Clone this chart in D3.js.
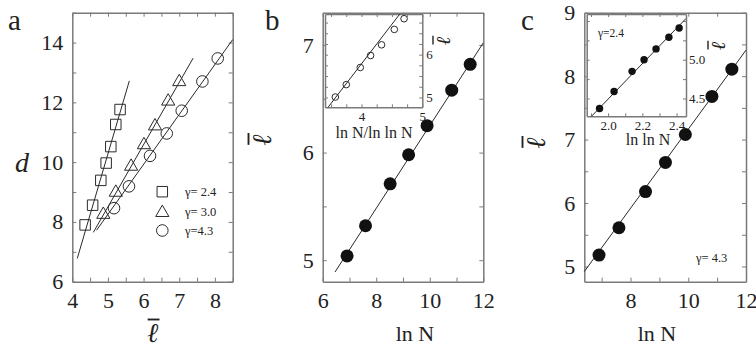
<!DOCTYPE html>
<html><head><meta charset="utf-8">
<script src="https://cdn.jsdelivr.net/npm/d3@7"></script>
<style>
body{margin:0;background:#fff}
svg{display:block}
text{font-family:"Liberation Serif","Times New Roman",serif;fill:#222}
</style></head><body>
<svg id="chart" width="756" height="356"></svg>
<script>
// ---------- data ----------
const lnN = [6.91, 7.60, 8.52, 9.21, 9.90, 10.82, 11.51];
// panel a : d vs l-bar
const aSquareX = [4.36, 4.57, 4.80, 4.95, 5.08, 5.22, 5.34];
const aSquareY = [7.90, 8.56, 9.39, 9.97, 10.52, 11.26, 11.76];
const aTriX    = [4.87, 5.22, 5.65, 6.01, 6.32, 6.69, 7.00];
const aTriY    = [8.28, 9.02, 9.89, 10.61, 11.24, 12.07, 12.72];
const aCircX   = [5.17, 5.59, 6.18, 6.65, 7.07, 7.65, 8.08];
const aCircY   = [8.46, 9.19, 10.21, 10.96, 11.72, 12.70, 13.47];
const aFitSquare = [[4.14, 6.78], [5.60, 12.72]];
const aFitTri    = [[4.59, 7.65], [7.39, 13.48]];
const aFitCirc   = [[4.68, 7.72], [8.50, 14.10]];
const aLegend = ["γ= 2.4", "γ= 3.0", "γ=4.3"];
// panel b
const bY = [5.04, 5.32, 5.71, 5.98, 6.25, 6.58, 6.82];
const bFit = [[6.46, 4.89], [12.0, 7.02]];
const bInsetX = [3.57, 3.75, 3.98, 4.15, 4.33, 4.54, 4.70];
const bInsetY = [5.01, 5.30, 5.70, 5.98, 6.23, 6.59, 6.84];
const bInsetFit = [[3.45, 4.77], [4.63, 6.95]];
// panel c
const cY = [5.18, 5.61, 6.18, 6.64, 7.08, 7.68, 8.11];
const cFit = [[6.4, 4.92], [12.0, 8.41]];
const cInsetX = [1.95, 2.035, 2.14, 2.21, 2.28, 2.355, 2.415];
const cInsetY = [4.37, 4.59, 4.85, 5.00, 5.14, 5.29, 5.41];
const cInsetFit = [[1.903, 4.27], [2.454, 5.53]];
// ticks
const aXTicks = d3.range(4, 8.51, 0.5), aXLabels = [4, 5, 6, 7, 8];
const aYTicks = d3.range(6, 15.01, 1), aYLabels = [6, 8, 10, 12, 14];
const bXTicks = d3.range(6, 12.01, 1), bXLabels = [6, 8, 10, 12];
const bYTicks = d3.range(5, 7.01, 0.5), bYLabels = [5, 6, 7];
const cXTicks = d3.range(7, 12.01, 1), cXLabels = [8, 10, 12];
const cYTicks = d3.range(5, 9.01, 0.5), cYLabels = [5, 6, 7, 8, 9];
const biXTicks = d3.range(3.5, 5.01, 0.25), biXLabels = [4, 5];
const biYTicks = d3.range(5, 6.91, 0.25), biYLabels = [5, 6];
const ciXTicks = d3.range(1.9, 2.451, 0.1), ciXLabels = [2.0, 2.2, 2.4];
const ciYTicks = d3.range(4.5, 5.51, 0.25), ciYLabels = [4.5, 5.0];

// ---------- drawing ----------
const svg = d3.select("#chart");
const FRAME = "#7a7a7a", INK = "#2a2a2a";

function near(arr, v) { return arr.some(a => Math.abs(a - v) < 1e-6); }

function makePanel(o) {
  const x = d3.scaleLinear().domain(o.xd).range([o.l, o.r]);
  const y = d3.scaleLinear().domain(o.yd).range([o.b, o.t]);
  const g = svg.append("g");
  g.append("rect").attr("x", o.l).attr("y", o.t).attr("width", o.r - o.l).attr("height", o.b - o.t)
    .attr("fill", "#fff").attr("stroke", "none");
  const fx = o.fmtX || (d => d), fy = o.fmtY || (d => d);
  const bottom = d3.axisBottom(x).tickValues(o.xt).tickSizeInner(-o.tl).tickSizeOuter(0).tickPadding(o.xpad)
    .tickFormat(d => near(o.xl, d) ? fx(d) : "");
  const top = d3.axisTop(x).tickValues(o.xt).tickSizeInner(-o.tl).tickSizeOuter(0).tickFormat("");
  const left = d3.axisLeft(y).tickValues(o.yt).tickSizeInner(-o.tl).tickSizeOuter(0).tickPadding(o.ypad)
    .tickFormat(d => (!o.yRight && near(o.yl, d)) ? fy(d) : "");
  const right = d3.axisRight(y).tickValues(o.yt).tickSizeInner(-o.tl).tickSizeOuter(0).tickPadding(o.ypad)
    .tickFormat(d => (o.yRight && near(o.yl, d)) ? fy(d) : "");
  const ax = [
    g.append("g").attr("transform", `translate(0,${o.b})`).call(bottom),
    g.append("g").attr("transform", `translate(0,${o.t})`).call(top),
    g.append("g").attr("transform", `translate(${o.l},0)`).call(left),
    g.append("g").attr("transform", `translate(${o.r},0)`).call(right)
  ];
  ax.forEach(a => {
    a.select(".domain").attr("stroke", FRAME).attr("stroke-width", o.sw);
    a.selectAll(".tick line").attr("stroke", FRAME).attr("stroke-width", 1);
    a.selectAll(".tick text").attr("font-size", o.fs).attr("fill", "#222")
      .style("font-family", '"Liberation Serif","Times New Roman",serif');
    a.attr("font-family", null);
  });
  return {g, x, y};
}

function fitLine(p, seg, w) {
  p.g.append("line")
    .attr("x1", p.x(seg[0][0])).attr("y1", p.y(seg[0][1]))
    .attr("x2", p.x(seg[1][0])).attr("y2", p.y(seg[1][1]))
    .attr("stroke", INK).attr("stroke-width", w || 1);
}

function ellBar(cx, cy, size, rot) {
  const g = svg.append("g").attr("transform", `translate(${cx},${cy}) rotate(${rot})`);
  g.append("text").attr("x", 0).attr("y", size * 0.35).attr("text-anchor", "middle")
    .attr("font-size", size).attr("font-style", "italic").text("ℓ");
  g.append("line").attr("x1", -size * 0.18).attr("x2", size * 0.26)
    .attr("y1", -size * 0.5).attr("y2", -size * 0.5)
    .attr("stroke", "#222").attr("stroke-width", size * 0.07);
}

// ----- panel a -----
const pa = makePanel({l: 72.3, r: 232.7, t: 12.7, b: 281.7, xd: [4, 8.5], yd: [6, 15],
  xt: aXTicks, xl: aXLabels, yt: aYTicks, yl: aYLabels, tl: 4, xpad: 11, ypad: 9, fs: 22, sw: 1.5});
fitLine(pa, aFitSquare); fitLine(pa, aFitTri); fitLine(pa, aFitCirc);
const sq = d3.symbol().type(d3.symbolSquare).size(110);
const tri = d3.symbol().type(d3.symbolTriangle).size(75);
pa.g.selectAll(".sq").data(aSquareX).join("path")
  .attr("d", sq).attr("transform", (d, i) => `translate(${pa.x(d)},${pa.y(aSquareY[i])})`)
  .attr("fill", "none").attr("stroke", INK).attr("stroke-width", 1);
pa.g.selectAll(".tri").data(aTriX).join("path")
  .attr("d", tri).attr("transform", (d, i) => `translate(${pa.x(d)},${pa.y(aTriY[i]) + 1})`)
  .attr("fill", "none").attr("stroke", INK).attr("stroke-width", 1);
pa.g.selectAll(".ci").data(aCircX).join("circle")
  .attr("cx", d => pa.x(d)).attr("cy", (d, i) => pa.y(aCircY[i])).attr("r", 5.8)
  .attr("fill", "none").attr("stroke", INK).attr("stroke-width", 1);
// legend
const legY = [191.7, 211.7, 230.5];
const legSym = [sq, tri, null];
aLegend.forEach((t, i) => {
  if (legSym[i]) {
    pa.g.append("path").attr("d", legSym[i]).attr("transform", `translate(162.3,${legY[i] + (i === 1 ? 1 : 0)})`)
      .attr("fill", "none").attr("stroke", INK);
  } else {
    pa.g.append("circle").attr("cx", 162.3).attr("cy", legY[i]).attr("r", 5.8).attr("fill", "none").attr("stroke", INK);
  }
  pa.g.append("text").attr("x", 185).attr("y", legY[i] + 4).attr("font-size", 12.5).text(t);
});
svg.append("text").attr("x", 8).attr("y", 30).attr("font-size", 29).text("a");
svg.append("text").attr("x", 22).attr("y", 172).attr("text-anchor", "middle")
  .attr("font-size", 28).attr("font-style", "italic").text("d");
ellBar(152.5, 333, 27, 0);

// ----- panel b -----
const pb = makePanel({l: 322.7, r: 483.3, t: 12.7, b: 281.7, xd: [6, 12], yd: [4.8, 7.3],
  xt: bXTicks, xl: bXLabels, yt: bYTicks, yl: bYLabels, tl: 4, xpad: 11, ypad: 9, fs: 22, sw: 1.5});
fitLine(pb, bFit);
pb.g.selectAll(".pt").data(lnN).join("circle")
  .attr("cx", d => pb.x(d)).attr("cy", (d, i) => pb.y(bY[i])).attr("r", 6.5).attr("fill", "#111");
svg.append("text").attr("x", 265).attr("y", 30).attr("font-size", 29).text("b");
ellBar(262, 140, 27, -90);
svg.append("text").attr("x", 415).attr("y", 341).attr("text-anchor", "middle").attr("font-size", 22).text("ln N");
// inset b
const pbi = makePanel({l: 325, r: 422.3, t: 14, b: 107.3, xd: [3.4, 5], yd: [4.77, 6.95],
  xt: biXTicks, xl: biXLabels, yt: biYTicks, yl: biYLabels, yRight: true, tl: 3, xpad: 4, ypad: 4, fs: 13, sw: 1.5});
fitLine(pbi, bInsetFit);
pbi.g.selectAll(".pt").data(bInsetX).join("circle")
  .attr("cx", d => pbi.x(d)).attr("cy", (d, i) => pbi.y(bInsetY[i])).attr("r", 3.3)
  .attr("fill", "none").attr("stroke", INK);
svg.append("text").attr("x", 374).attr("y", 138).attr("text-anchor", "middle").attr("font-size", 16).text("ln N/ln ln N");
ellBar(443, 41, 20, -90);

// ----- panel c -----
const pc = makePanel({l: 584.3, r: 746, t: 12.7, b: 281.7, xd: [6.4, 12], yd: [4.76, 9],
  xt: cXTicks, xl: cXLabels, yt: cYTicks, yl: cYLabels, tl: 4, xpad: 11, ypad: 9, fs: 22, sw: 1.5});
fitLine(pc, cFit);
pc.g.selectAll(".pt").data(lnN).join("circle")
  .attr("cx", d => pc.x(d)).attr("cy", (d, i) => pc.y(cY[i])).attr("r", 6.5).attr("fill", "#111");
pc.g.append("text").attr("x", 696).attr("y", 262).attr("font-size", 12.5).text("γ= 4.3");
svg.append("text").attr("x", 521).attr("y", 30).attr("font-size", 29).text("c");
ellBar(536, 143, 27, -90);
svg.append("text").attr("x", 657).attr("y", 341).attr("text-anchor", "middle").attr("font-size", 22).text("ln N");
// inset c
const pci = makePanel({l: 586.7, r: 686, t: 14, b: 116.3, xd: [1.875, 2.455], yd: [4.27, 5.59],
  xt: ciXTicks, xl: ciXLabels, yt: ciYTicks, yl: ciYLabels, yRight: true, tl: 3, xpad: 4, ypad: 3,
  fs: 13, sw: 1.5, fmtX: d3.format(".1f"), fmtY: d3.format(".1f")});
fitLine(pci, cInsetFit);
pci.g.selectAll(".pt").data(cInsetX).join("circle")
  .attr("cx", d => pci.x(d)).attr("cy", (d, i) => pci.y(cInsetY[i])).attr("r", 3.7).attr("fill", "#111");
pci.g.append("text").attr("x", 598).attr("y", 37).attr("font-size", 11.5).text("γ=2.4");
svg.append("text").attr("x", 648).attr("y", 145).attr("text-anchor", "middle").attr("font-size", 16).text("ln ln N");
ellBar(718, 46, 20, -90);
</script>
</body></html>
